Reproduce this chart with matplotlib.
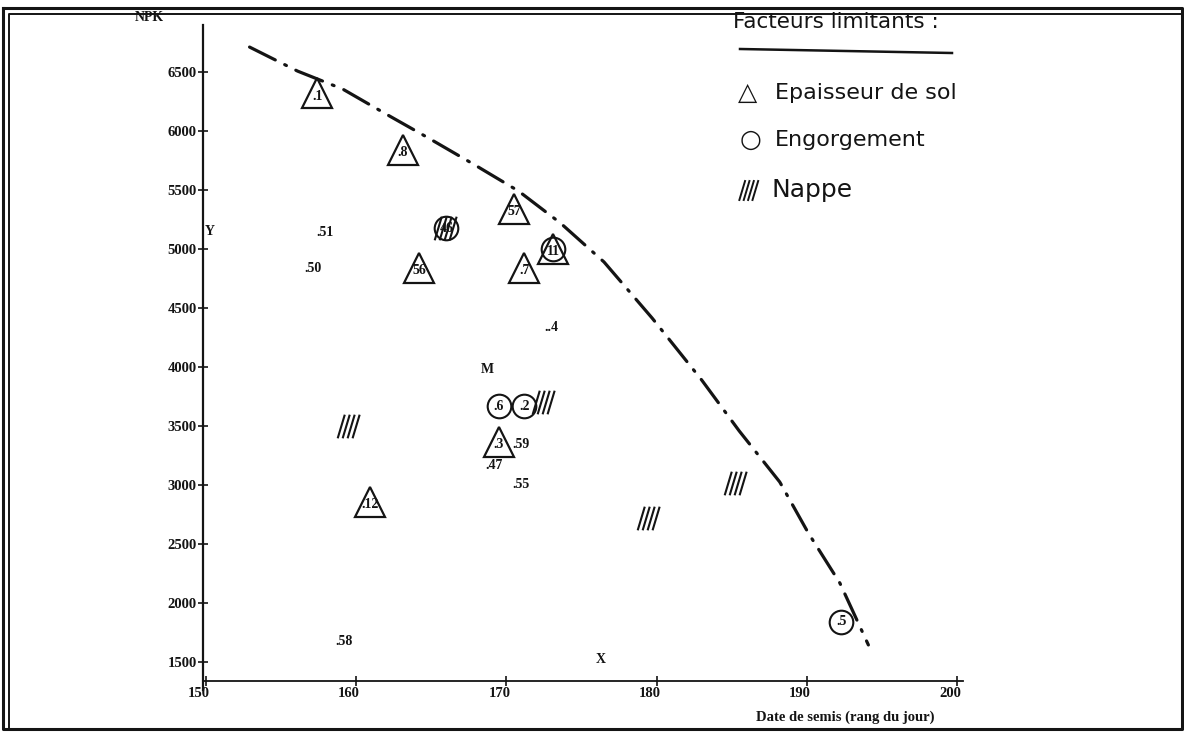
import matplotlib
matplotlib.use('Agg')
import matplotlib.pyplot as plt
import matplotlib.transforms as mtransforms
from matplotlib.lines import Line2D
from matplotlib.path import Path

W, H = 1184, 733
INK = '#141414'
FONT = 'Liberation Serif'

# points carrying a limiting factor
tri_x = [157.4, 163.1, 170.5, 173.1, 171.2, 164.2, 169.5, 160.9]
tri_y = [6322, 5839, 5339, 5000, 4839, 4839, 3364, 2856]
tri_lab = ['.1', '.8', '57', '11', '.7', '56', '.3', '.12']

circ_x = [166.0, 169.5, 171.2, 173.1, 192.3]
circ_y = [5178, 3669, 3669, 5000, 1839]
circ_lab = ['46', '.6', '.2', '', '.5']

nappe_x = [166.0, 159.5, 172.5, 185.3, 179.5]
nappe_y = [5178, 3500, 3703, 3017, 2720]

# points with no limiting factor
plain_x = [157.9, 157.1, 173.0, 171.0, 169.2, 171.0, 159.2]
plain_y = [5144, 4831, 4331, 3339, 3169, 3000, 1669]
plain_lab = ['.51', '.50', '..4', '.59', '.47', '.55', '.58']

# hand drawn frontier (dash-dot)
curve_x = [152.9, 156.1, 159.1, 162.1, 164.7, 167.8, 170.8, 173.6,
           176.5, 179.7, 183.0, 185.5, 188.2, 190.1, 192.2, 194.1]
curve_y = [6712, 6508, 6356, 6136, 5949, 5720, 5492, 5220,
           4890, 4415, 3890, 3458, 3025, 2593, 2169, 1644]

x_ticks = [150, 160, 170, 180, 190, 200]
y_ticks = [1500, 2000, 2500, 3000, 3500, 4000, 4500, 5000, 5500, 6000, 6500]

legend_title = 'Facteurs limitants :'
legend_items = ['Epaisseur de sol', 'Engorgement', 'Nappe']


def fx(px):
    return px / W


def fy(py):
    return 1 - py / H


# marker made of four slanted strokes for "Nappe"
verts, codes = [], []
for i in range(4):
    x0 = -1.0 + 0.42 * i
    verts += [(x0, -1.0), (x0 + 0.6, 1.0)]
    codes += [Path.MOVETO, Path.LINETO]
hatch = Path(verts, codes)

fig = plt.figure(figsize=(W / 100, H / 100), dpi=100)
ax = fig.add_axes([fx(203), fy(690), (963 - 203) / W, (690 - 25) / H])
ax.set_xlim(149.8, 200.4)
ax.set_ylim(1262, 6899)

for s in ['top', 'right']:
    ax.spines[s].set_visible(False)
ax.spines['bottom'].set_position(('data', 1339))
ax.spines['left'].set_linewidth(1.6)
ax.spines['bottom'].set_linewidth(1.3)
ax.spines['left'].set_color(INK)
ax.spines['bottom'].set_color(INK)

ax.set_xticks(x_ticks)
ax.set_yticks(y_ticks)
ax.tick_params(direction='inout', length=7, width=1.2, color=INK, pad=1,
               labelsize=10.5, labelcolor=INK)
for lab in ax.get_xticklabels() + ax.get_yticklabels():
    lab.set_fontfamily(FONT)
    lab.set_fontweight('bold')
shift = mtransforms.ScaledTranslation(-7 / 100, 0, fig.dpi_scale_trans)
for lab in ax.get_xticklabels():
    lab.set_transform(lab.get_transform() + shift)

ax.plot(curve_x, curve_y, color=INK, lw=2.3,
        dashes=(9, 3.3, 0.6, 3.3), dash_capstyle='round')

ax.plot(tri_x, tri_y, ls='none', marker='^', ms=21, mfc='none', mec=INK, mew=1.6)
ax.plot(circ_x, circ_y, ls='none', marker='o', ms=17, mfc='none', mec=INK, mew=1.5)
ax.plot(nappe_x, nappe_y, ls='none', marker=hatch, ms=17, mec=INK, mew=1.5)

txt = dict(fontfamily=FONT, fontweight='bold', fontsize=10, color=INK,
           ha='center', va='center')
for x, y, t in zip(tri_x, tri_y, tri_lab):
    ax.text(x, y - 25, t, **txt)
for x, y, t in zip(circ_x, circ_y, circ_lab):
    ax.text(x, y, t, **txt)
for x, y, t in zip(plain_x, plain_y, plain_lab):
    ax.text(x, y, t, **txt)

# plot annotations of the original listing
ax.text(-0.07, 1.012, 'NPK', transform=ax.transAxes, **txt)
ax.text(0.003, 0.69, 'Y', transform=ax.transAxes, **dict(txt, ha='left'))
ax.text(176.3, 1517, 'X', **txt)
ax.text(168.7, 3975, 'M', **txt)
ax.text(0.845, -0.041, 'Date de semis (rang du jour)', transform=ax.transAxes,
        **dict(txt, fontsize=10.5))

# hand written legend
hand = dict(fontfamily='DejaVu Sans', fontsize=16, color=INK, va='center')
fig.text(fx(733), fy(22), legend_title, **dict(hand, fontsize=15.5))
fig.add_artist(Line2D([fx(740), fx(952)], [fy(49), fy(53)], color=INK, lw=1.8))
fig.text(fx(738), fy(93), '\u25b3', **dict(hand, fontsize=18))
fig.text(fx(775), fy(93), legend_items[0], **hand)
fig.text(fx(740), fy(140), '\u25cb', **dict(hand, fontsize=18))
fig.text(fx(775), fy(140), legend_items[1], **hand)
fig.add_artist(Line2D([fx(749)], [fy(190)], marker=hatch, ms=15, mec=INK,
                      mew=1.4, ls='none'))
fig.text(fx(772), fy(190), legend_items[2], **dict(hand, fontsize=18))

# double border of the listing
fig.add_artist(Line2D([fx(3), fx(1182), fx(1182), fx(3), fx(3)],
                      [fy(8), fy(8), fy(729), fy(729), fy(8)], color=INK, lw=2.2))
fig.add_artist(Line2D([fx(9), fx(9), fx(1182)], [fy(729), fy(14), fy(14)],
                      color=INK, lw=1.4))

fig.savefig('out.png', dpi=100, facecolor='white')
